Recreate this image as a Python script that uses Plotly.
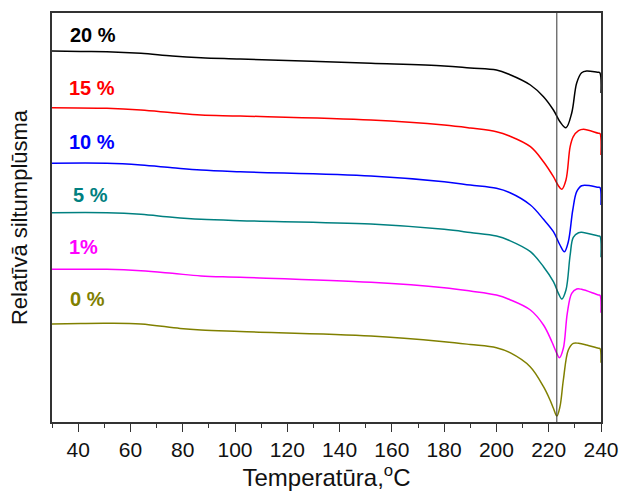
import plotly.graph_objects as go

# DSC thermograms: relative heat flow (arbitrary units, curves offset vertically)
# for samples with different additive content.
labels = ["20 %", "15 %", "10 %", "5 %", "1%", "0 %"]
colors = ["#000000", "#FF0000", "#0000FF", "#008080", "#FF00FF", "#808000"]

t_20 = [30, 41, 51, 64, 76, 87, 102, 152, 180, 190, 200, 205, 213, 218, 221.8, 224.3, 226.6, 228.8, 230.7, 232.6, 234.5, 238.6, 239.5, 240]
q_20 = [371, 370.5, 370.3, 368.7, 366, 364.3, 363, 358.7, 356, 354, 352, 347.5, 337, 325.3, 312, 300.3, 294.3, 309, 339, 349.3, 351, 349.7, 349.5, 329]

t_15 = [30, 51, 64, 76, 87, 102, 152, 180, 190, 200, 205, 213, 218, 221.8, 223.7, 225, 226.6, 228.2, 229.4, 231.4, 233.3, 239, 239.6, 240]
q_15 = [314.3, 313.7, 312, 309.3, 307, 306, 302, 297, 294, 290.3, 286, 275.3, 260.3, 245.3, 236.3, 232.7, 242, 275.3, 285.3, 291.3, 292.7, 288.7, 288.5, 267]

t_10 = [30, 51, 64, 76, 87, 102, 152, 180, 190, 200, 205, 213, 218, 221.8, 224.3, 226, 227.5, 229.2, 230.7, 232.6, 239, 239.6, 240]
q_10 = [258.7, 258.7, 257, 254.3, 252, 250.3, 246, 240.3, 237, 233.7, 229.5, 217, 202.7, 190.3, 177, 170.3, 180.3, 212, 230.3, 236.3, 234.7, 234.5, 217]

t_5 = [30, 51, 64, 76, 87, 102, 152, 180, 190, 200, 205, 213, 218, 221.8, 223.7, 225, 226.6, 228.2, 229.4, 231.4, 232.6, 239, 239.6, 240]
q_5 = [209.3, 209.3, 207.7, 204.7, 202.7, 201.3, 198, 192.7, 189.5, 186, 181.5, 170.3, 155.3, 140.3, 128.7, 123, 132, 167, 184.7, 189.3, 189.7, 186, 185.8, 164.7]

t_1 = [30, 51, 64, 76, 87, 102, 152, 180, 190, 200, 205, 213, 218, 221.2, 223.1, 224.1, 225.6, 227.1, 228.8, 230.7, 232.6, 239, 239.6, 240]
q_1 = [152.7, 152.7, 151.3, 148.7, 146, 144.7, 139.7, 134.3, 131, 127, 122.5, 112, 97, 80.3, 68.7, 64.3, 73.7, 108.7, 128.7, 133, 132.7, 127, 126.8, 109.3]

t_0 = [30, 41, 51, 64, 79, 87, 102, 152, 180, 190, 200, 205.2, 212.9, 218, 220.5, 221.8, 223.1, 224.3, 225.6, 227.5, 229.4, 231.4, 234.5, 239, 239.6, 240]
q_0 = [98, 98.5, 98.7, 98, 93.5, 92, 90.5, 86, 80.3, 77.5, 74.3, 69.3, 55.3, 35.3, 22, 13.7, 6, 15.3, 42, 72, 78.7, 78.7, 77, 73.7, 73.5, 59.3]

series_t = [t_20, t_15, t_10, t_5, t_1, t_0]
series_q = [q_20, q_15, q_10, q_5, q_1, q_0]

# label anchor positions (temperature, heat-flow units)
label_x = [36.3, 35.9, 35.9, 37.1, 35.9, 36.3]
label_y = [387, 334, 280, 227, 175, 123]

# reference temperature marker
t_ref = 223.1

x_ticks = [40, 60, 80, 100, 120, 140, 160, 180, 200, 220, 240]

font_family = "Arial, Liberation Sans, sans-serif"

fig = go.Figure()
for t, q, c, name in zip(series_t, series_q, colors, labels):
    fig.add_trace(go.Scatter(
        x=t, y=q, mode="lines", name=name,
        line=dict(color=c, width=1.5, shape="spline", smoothing=1.0),
        showlegend=False, hoverinfo="skip",
    ))

for name, c, lx, ly in zip(labels, colors, label_x, label_y):
    fig.add_annotation(
        x=lx, y=ly, xref="x", yref="y", text=f"<b>{name}</b>",
        showarrow=False, xanchor="left", yanchor="middle",
        font=dict(family=font_family, size=20, color=c),
    )

fig.add_shape(type="line", x0=t_ref, x1=t_ref, xref="x", y0=0, y1=1, yref="y domain",
              line=dict(color="#333333", width=1))

fig.update_layout(
    width=619, height=495,
    margin=dict(l=52, r=18, t=13, b=73),
    paper_bgcolor="white", plot_bgcolor="white",
    font=dict(family=font_family, color="#111111"),
)
fig.update_xaxes(
    range=[30, 240], tickvals=x_ticks, ticks="outside", ticklen=8, tickwidth=1.3,
    tickcolor="#333333", tickfont=dict(size=21, family=font_family, color="#111111"),
    minor=dict(dtick=10, tick0=30, ticks="outside", ticklen=4, tickcolor="#333333", tickwidth=1.3),
    showline=True, linecolor="#333333", linewidth=1.5, mirror=True,
    showgrid=False, zeroline=False, automargin=False,
    title=dict(text="Temperatūra,<sup>o</sup>C", font=dict(size=24, family=font_family, color="#111111"), standoff=5),
)
fig.update_yaxes(
    range=[0, 409], showticklabels=False, ticks="",
    showline=True, linecolor="#333333", linewidth=1.5, mirror=True,
    showgrid=False, zeroline=False, automargin=False,
    title=dict(text="Relatīvā siltumplūsma", font=dict(size=22, family=font_family, color="#111111"), standoff=17),
)

fig.write_html("out.html")
